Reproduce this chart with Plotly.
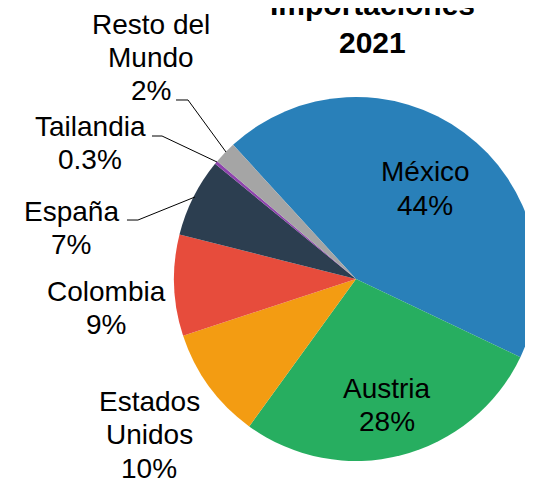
import plotly.graph_objects as go

# la pagina tiene 8px de margen en el body: la figura empieza en (8, 8)
OFF = 8
W, H = 545, 472

# datos
paises = ["México", "Austria", "Estados Unidos", "Colombia", "España", "Tailandia", "Resto del Mundo"]
nombres = ["México", "Austria", "Estados<br>Unidos", "Colombia", "España", "Tailandia", "Resto del<br>Mundo"]
porcentajes = [44, 28, 10, 9, 7, 0.3, 2]
colores = ["#2980B9", "#27AE60", "#F39C12", "#E74C3C", "#2C3E50", "#8E44AD", "#A5A5A5"]
titulo = ["Importaciones", "2021"]

# posiciones (px de pantalla): centro x y centro de la primera linea
pos_etiquetas = {
    "México": (425, 172),
    "Austria": (387, 388),
    "Estados Unidos": (149, 401),
    "Colombia": (106, 291),
    "España": (71, 211),
    "Tailandia": (90, 126),
    "Resto del Mundo": (151, 24),
}
INTERLINEA = 33.5
guias = {
    "España": [(127, 220), (138, 220), (195, 197)],
    "Tailandia": [(152, 136), (162, 136), (217, 162)],
    "Resto del Mundo": [(176, 100), (188, 100), (226, 152)],
}


def px(x, y):
    return (x - OFF) / W, 1 - (y - OFF) / H


def texto_lineas(x0, y0, lineas, paso, font):
    for i, linea in enumerate(lineas):
        x, y = px(x0, y0 + i * paso)
        fig.add_annotation(x=x, y=y, xref="paper", yref="paper", text=linea,
                           showarrow=False, xanchor="center", yanchor="middle",
                           font=font)


textos = [f"{n}<br>{v:g}%" for n, v in zip(nombres, porcentajes)]

fig = go.Figure()
fig.add_trace(go.Pie(labels=paises, values=porcentajes,
                     textinfo="none",
                     marker=dict(colors=colores, line=dict(width=0)),
                     sort=False, direction="clockwise", rotation=-42.5,
                     hoverinfo="label+percent",
                     domain=dict(x=[166 / W, 530 / W], y=[1 - 453 / H, 1 - 89 / H])))

for pais, texto in zip(paises, textos):
    x0, y0 = pos_etiquetas[pais]
    texto_lineas(x0, y0, texto.split("<br>"), INTERLINEA, dict(size=28, color="black"))

for pais, puntos in guias.items():
    camino = " L ".join(f"{px(x, y)[0]:.4f},{px(x, y)[1]:.4f}" for x, y in puntos)
    fig.add_shape(type="path", path="M " + camino, xref="paper", yref="paper",
                  line=dict(color="black", width=1))

texto_lineas(372, 5, [f"<b>{t}</b>" for t in titulo], 37, dict(size=30, color="black"))

fig.update_layout(width=W, height=H, showlegend=False,
                  margin=dict(l=0, r=0, t=0, b=0),
                  paper_bgcolor="white",
                  font=dict(family="Liberation Sans, Arial, sans-serif", color="black"))

fig.write_html("out.html")
